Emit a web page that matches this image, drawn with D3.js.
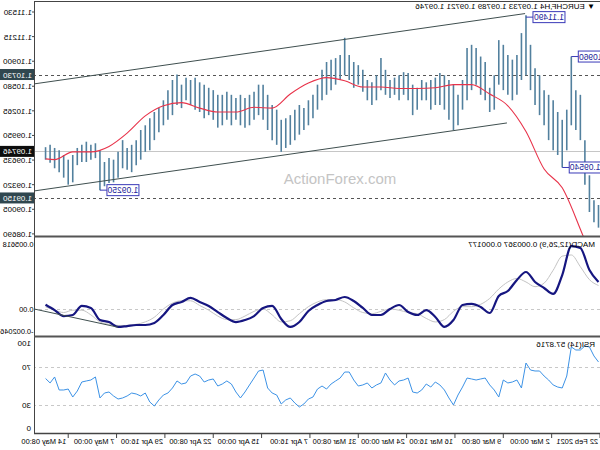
<!DOCTYPE html>
<html><head><meta charset="utf-8">
<script src="https://cdn.jsdelivr.net/npm/d3@7"></script>
<style>body{margin:0;background:#fff}svg{display:block;font-family:"Liberation Sans",Arial,sans-serif}</style>
</head><body>
<svg id="c" width="600" height="450"></svg>
<script>
// ---- data (chronological, 12h bars, 22 Feb 2021 -> 14 May 2021) ----
const barHigh = [1.0906,1.0912,1.0944,1.0989,1.1047,1.1053,1.1096,1.1028,1.1015,1.1025,1.1040,1.1047,1.1053,1.1072,1.1081,1.1111,1.1149,1.1126,1.1098,1.1092,1.1098,1.1111,1.1117,1.1072,1.1056,1.1089,1.1096,1.1107,1.1111,1.1107,1.1066,1.1047,1.1060,1.1066,1.1072,1.1075,1.1069,1.1066,1.1063,1.1066,1.1056,1.1060,1.1075,1.1076,1.1072,1.1069,1.1066,1.1079,1.1094,1.1072,1.1063,1.1066,1.1079,1.1085,1.1089,1.1098,1.1120,1.1098,1.1094,1.1092,1.1089,1.1079,1.1060,1.1047,1.1040,1.1030,1.1034,1.1028,1.1021,1.1017,1.1015,1.1028,1.1034,1.1047,1.1060,1.1060,1.1051,1.1047,1.1043,1.1047,1.1043,1.1047,1.1051,1.1047,1.1047,1.1053,1.1056,1.1060,1.1063,1.1069,1.1066,1.1069,1.1060,1.1073,1.1066,1.1053,1.1040,1.1030,1.1025,1.1017,1.1008,1.1002,1.0989,1.0983,1.0979,1.0989,1.0974,1.0964,1.0966,1.0961,1.0976,1.0985,1.0983,1.0987,1.0983,1.0979,1.0970,1.0964,1.0970,1.0976,1.0979,1.0983,1.0980];
const barLow = [1.0877,1.0884,1.0897,1.0932,1.0989,1.1002,1.1008,1.0976,1.0954,1.0970,1.0976,1.0989,1.1008,1.1021,1.1034,1.1053,1.1072,1.1066,1.1047,1.1040,1.1047,1.1053,1.1060,1.1028,1.1025,1.1040,1.1047,1.1060,1.1053,1.1040,1.1028,1.1008,1.1002,1.1015,1.1028,1.1034,1.1034,1.1028,1.1040,1.1040,1.1028,1.1021,1.1040,1.1047,1.1040,1.1047,1.1043,1.1047,1.1053,1.1040,1.1034,1.1040,1.1051,1.1060,1.1056,1.1066,1.1072,1.1066,1.1060,1.1053,1.1047,1.1040,1.1028,1.1017,1.1008,1.1002,1.0996,1.0989,1.0983,1.0979,1.0974,1.0983,1.0989,1.1002,1.1015,1.1021,1.1015,1.1008,1.1005,1.1008,1.1015,1.1008,1.1015,1.1008,1.1005,1.1015,1.1021,1.1017,1.1025,1.1028,1.1034,1.1040,1.1030,1.1034,1.1021,1.1015,1.1008,1.0999,1.0989,1.0976,1.0974,1.0964,1.0957,1.0948,1.0951,1.0953,1.0941,1.0935,1.0934,1.0930,1.0925,1.0966,1.0964,1.0961,1.0961,1.0957,1.0935,1.0932,1.0941,1.0948,1.0953,1.0960,1.0964];
const maBars = [0,4,8,12,16,20,24,28,32,36,40,44,48,52,56,60,64,68,72,76,80,84,88,92,96,100,104,108,112,116,120,122];
const maValues = [1.0815,1.0875,1.0928,1.0952,1.1000,1.1033,1.1048,1.1060,1.1060,1.1056,1.1055,1.1055,1.1057,1.1057,1.1065,1.1069,1.1062,1.1048,1.1030,1.1031,1.1025,1.1025,1.1030,1.1037,1.1033,1.1020,1.0998,1.0981,1.0974,1.0974,1.0964,1.0965];
const oscBars = [0,2,4,6,8,10,12,14,16,18,20,22,24,26,28,30,32,34,36,38,40,42,44,46,48,50,52,54,56,58,60,62,64,66,68,70,72,74,76,78,80,82,84,86,88,90,92,94,96,98,100,102,104,106,108,110,112,114,116,118,120,122];
const macdMain = [0.00230,0.00332,0.00519,0.00536,0.00289,0.00128,0.00179,0.00230,0.00315,0.00247,0.00153,0.00111,-0.00034,0.00017,0.00043,0.00034,-0.00094,-0.00153,-0.00068,-0.00009,-0.00051,-0.00026,0.00034,0.00000,-0.00051,-0.00051,0.00009,0.00068,0.00102,0.00077,0.00068,0.00034,-0.00017,-0.00111,-0.00153,-0.00085,0.00026,0.00009,-0.00060,-0.00094,-0.00111,-0.00077,-0.00026,0.00026,0.00060,0.00094,0.00060,0.00034,-0.00051,-0.00119,-0.00136,-0.00136,-0.00145,-0.00153,-0.00111,-0.00094,0.00009,0.00026,-0.00051,-0.00060,-0.00009,0.00037];
const macdSignal = [0.0020,0.0025,0.0036,0.0046,0.0045,0.0033,0.0022,0.0019,0.0023,0.0026,0.0023,0.0017,0.0009,0.0004,0.0002,0.0002,-0.0002,-0.0009,-0.0011,-0.0008,-0.0004,-0.0003,-0.0001,0.0000,-0.0002,-0.0004,-0.0003,0.0001,0.0006,0.0008,0.0008,0.0006,0.0002,-0.0004,-0.0010,-0.0011,-0.0005,0.0000,-0.0002,-0.0006,-0.0009,-0.0009,-0.0006,-0.0001,0.0003,0.0007,0.0007,0.0005,0.0000,-0.0007,-0.0011,-0.0013,-0.0014,-0.0014,-0.0013,-0.0011,-0.0005,-0.0001,-0.0001,-0.0003,-0.0001,0.00018];
const rsiValues = [75.3,81.6,91.1,92.1,87.9,87.9,91.1,60.5,47.9,48.9,51.1,56.3,60.5,65.8,65.8,66.8,74.2,47.9,56.3,54.2,53.2,56.3,38.4,45.8,51.1,58.4,57.4,56.3,57.4,58.4,48.9,40.5,30.0,37.4,45.8,51.1,54.2,48.9,52.1,45.8,42.6,43.7,58.4,56.3,55.3,51.1,56.3,63.7,53.2,51.1,47.9,53.2,51.1,50.0,56.3,64.7,64.7,58.4,55.3,52.1,46.8,50.0,46.8,38.4,36.3,31.1,27.9,32.1,37.4,35.3,31.1,40.5,42.6,47.9,66.8,65.8,58.4,51.1,43.7,37.4,43.7,52.1,55.3,52.1,50.0,57.4,56.3,54.2,60.5,62.6,60.5,53.2,52.1,55.3,47.9,42.6,40.5,35.3,28.9,33.2,42.6,39.5,41.6,42.6,39.5,37.4,36.3,39.5,43.7,42.6,37.4,59.5,56.3,55.3,54.2,44.7,38.4,46.8,45.8,45.8,59.5,53.2,57.9];
const priceTicks = [1.11530,1.11215,1.10900,1.10580,1.10265,1.09950,1.09635,1.09320,1.09005,1.08690];
const levelPrices = [1.10730,1.09746,1.09150];
const levelKinds = ["dash","current","dash"];
const channelUpper = [[16.2,1.1151],[124.5,1.1061]];
const channelLower = [[20.2,1.1011],[124.5,1.0924]];
const macdTrend = [[106.0,-0.00155],[124.5,0.0]];
const extremeBars = [16,6,8,110];
const extremePrices = [1.11490,1.10960,1.09540,1.09250];
const timeLabels = ["22 Feb 2021","2 Mar 00:00","9 Mar 08:00","16 Mar 16:00","24 Mar 00:00","31 Mar 08:00","7 Apr 16:00","15 Apr 00:00","22 Apr 08:00","29 Apr 16:00","7 May 00:00","14 May 08:00"];
const timeH4 = [0,32,64,96,128,160,192,224,256,288,320,352];
const macdAxis = [0.005618,0,-0.002046];
const macdAxisLabels = ["0.005618","0.00","-0.002046"];
const rsiAxis = [100,70,30,0];

// ---- drawing ----
const svg = d3.select("#c");
const W = 565;            // plot right edge (price axis) in un-mirrored frame
const P1 = [2,236], P2 = [238,335], P3 = [338,433];
const x = d3.scaleLinear().domain([0,372]).range([0,562]);
const bx = k => x(3*k+1);
const yM = d3.scaleLinear().domain([1.11530,1.08690]).range([12,233.9]);
const yD = d3.scaleLinear().domain([0,0.005618]).range([309,243]);
const yR = d3.scaleLinear().domain([0,100]).range([433.5,338.5]);

const defs = svg.append("defs");
[["c1",P1],["c2",P2],["c3",P3]].forEach(([id,p])=>{
  defs.append("clipPath").attr("id",id).append("rect").attr("x",0).attr("y",p[0]).attr("width",W).attr("height",p[1]-p[0]);
});
const g = svg.append("g").attr("transform","translate(600,0) scale(-1,1)");
const fs = 8;

// --- main panel ---
const m = g.append("g").attr("clip-path","url(#c1)");
levelPrices.forEach((p,i)=>{
  m.append("line").attr("x1",0).attr("x2",W).attr("y1",Math.round(yM(p))+0.5).attr("y2",Math.round(yM(p))+0.5)
   .attr("stroke", levelKinds[i]==="current" ? "#c6c6c6" : "#555")
   .attr("stroke-dasharray", levelKinds[i]==="current" ? null : "3,3").attr("stroke-width",1);
});
m.selectAll("line.bar").data(barHigh).join("line").attr("class","bar")
  .attr("x1",(d,i)=>bx(i)).attr("x2",(d,i)=>bx(i))
  .attr("y1",d=>yM(d)).attr("y2",(d,i)=>yM(barLow[i]))
  .attr("stroke","#52809e").attr("stroke-width",1.6);
m.append("path").datum(maValues).attr("fill","none").attr("stroke","#e8334a").attr("stroke-width",1.1)
  .attr("d", d3.line().x((d,i)=>bx(maBars[i])).y(d=>yM(d)).curve(d3.curveMonotoneX));
[channelUpper, channelLower].forEach(c=>{
  m.append("line").attr("x1",bx(c[0][0])).attr("y1",yM(c[0][1])).attr("x2",bx(c[1][0])).attr("y2",yM(c[1][1]))
   .attr("stroke","#3f4f4f").attr("stroke-width",1);
});
g.append("text").attr("x",5).attr("y",9).attr("font-size",fs).attr("fill","#000")
  .text("\u25BC EURCHF,H4 1.09733 1.09789 1.09721 1.09746");
extremeBars.forEach((k,i)=>{
  const px = bx(k), py = yM(extremePrices[i]) + (i===0 ? 2 : 0);
  const t = extremePrices[i].toFixed(5);
  const tw = 32, bh = 11;
  const right = px - 7;
  g.append("line").attr("x1",right).attr("x2",px).attr("y1",py).attr("y2",py).attr("stroke","#3a3ab8");
  g.append("rect").attr("x",right-tw).attr("y",py-bh/2).attr("width",tw).attr("height",bh)
   .attr("fill","#fff").attr("stroke","#3a3ab8").attr("stroke-width",1);
  g.append("text").attr("x",right-tw/2).attr("y",py+3).attr("text-anchor","middle")
   .attr("font-size",fs+0.5).attr("fill","#1f1f9a").text(t);
});

// --- MACD panel ---
const d = g.append("g").attr("clip-path","url(#c2)");
d.append("line").attr("x1",0).attr("x2",W).attr("y1",yD(0)+0.5).attr("y2",yD(0)+0.5)
  .attr("stroke","#c8c8c8").attr("stroke-dasharray","3,3");
d.append("path").datum(macdSignal).attr("fill","none").attr("stroke","#c4c4c4").attr("stroke-width",1)
  .attr("d", d3.line().x((v,i)=>bx(oscBars[i])).y(v=>yD(v)).curve(d3.curveMonotoneX));
d.append("path").datum(macdMain).attr("fill","none").attr("stroke","#161680").attr("stroke-width",2.2)
  .attr("d", d3.line().x((v,i)=>bx(oscBars[i])).y(v=>yD(v)).curve(d3.curveMonotoneX));
d.append("line").attr("x1",bx(macdTrend[0][0])).attr("y1",yD(macdTrend[0][1])).attr("x2",bx(macdTrend[1][0])).attr("y2",yD(macdTrend[1][1]))
  .attr("stroke","#3f4f4f").attr("stroke-width",1);
g.append("text").attr("x",5).attr("y",247).attr("font-size",fs).attr("fill","#000")
  .text("MACD(12,26,9) 0.000367 0.000177");

// --- RSI panel ---
const r = g.append("g").attr("clip-path","url(#c3)");
[70,30].forEach(v=>r.append("line").attr("x1",0).attr("x2",W).attr("y1",Math.round(yR(v))+0.5).attr("y2",Math.round(yR(v))+0.5)
  .attr("stroke","#c8c8c8").attr("stroke-dasharray","3,3"));
r.append("path").datum(rsiValues).attr("fill","none").attr("stroke","#3c92e6").attr("stroke-width",1)
  .attr("d", d3.line().x((v,i)=>bx(i)).y(v=>yR(v)));
g.append("text").attr("x",5).attr("y",347).attr("font-size",fs).attr("fill","#000").text("RSI(14) 57.8716");

// --- frames ---
const fr = g.append("g").attr("stroke","#444").attr("fill","none");
fr.append("line").attr("x1",W+0.5).attr("x2",W+0.5).attr("y1",1).attr("y2",434);
fr.append("line").attr("x1",0).attr("x2",W).attr("y1",1.5).attr("y2",1.5);
[236.5,336.5].forEach(yv=>fr.append("line").attr("x1",0).attr("x2",W+1).attr("y1",yv).attr("y2",yv).attr("stroke-width",2).attr("stroke","#555"));
fr.append("line").attr("x1",0).attr("x2",W+1).attr("y1",433.5).attr("y2",433.5).attr("stroke-width",1.5);

// --- price axis ---
const ax = g.append("g").attr("font-size",fs).attr("fill","#000");
priceTicks.forEach(p=>{
  const yy = yM(p);
  ax.append("line").attr("x1",W).attr("x2",W+3).attr("y1",yy).attr("y2",yy).attr("stroke","#444");
  ax.append("text").attr("x",W+3).attr("y",yy+3).text(p.toFixed(5));
});
const fills = {dash:"#30474f", current:"#0d0d0d"};
levelPrices.forEach((p,i)=>{
  const yy = yM(p);
  ax.append("rect").attr("x",W+1).attr("y",yy-5.5).attr("width",34).attr("height",11).attr("fill",fills[levelKinds[i]]);
  ax.append("text").attr("x",W+3).attr("y",yy+3).attr("fill","#fff").text(p.toFixed(5));
});
macdAxis.forEach((v,i)=>{
  let yy = Math.max(P2[0]+6, Math.min(P2[1]-4, yD(v)));
  ax.append("text").attr("x",W+1.5).attr("y",yy+3).attr("font-size",7.4).text(macdAxisLabels[i]);
});
rsiAxis.forEach(v=>{
  let yy = Math.max(P3[0]+5, Math.min(P3[1]-5, yR(v)));
  ax.append("text").attr("x",W+4).attr("y",yy+3).text(v);
});

// --- time axis ---
timeH4.forEach((h,i)=>{
  const xx = x(h);
  ax.append("line").attr("x1",xx).attr("x2",xx).attr("y1",433).attr("y2",438).attr("stroke","#444");
  ax.append("text").attr("x",xx+2).attr("y",444).attr("font-size",7.4).text(timeLabels[i]);
});

// watermark (not mirrored in the reference)
svg.append("text").attr("x",340).attr("y",184).attr("text-anchor","middle").attr("font-size",15)
  .attr("fill","#c4c4c4").text("ActionForex.com");
</script>
</body></html>
